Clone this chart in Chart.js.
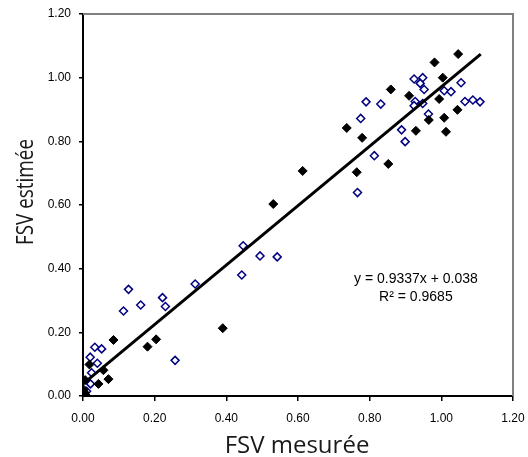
<!DOCTYPE html>
<html>
<head>
<meta charset="utf-8">
<script src="https://cdn.jsdelivr.net/npm/chart.js@4.4.0/dist/chart.umd.min.js"></script>
<style>
  body { margin: 0; background: #ffffff; }
</style>
</head>
<body>
<canvas id="grafica" width="528" height="457"></canvas>
<script>
// Valeurs mesurées / estimées, série 1 (losanges noirs pleins)
var mesureNoir = [1.047, 0.981, 1.004, 0.859, 0.910, 0.994, 1.045, 1.008, 0.965, 0.736,
                  1.013, 0.779, 0.929, 0.613, 0.764, 0.852, 0.531, 0.390, 0.085, 0.180,
                  0.204, 0.018, 0.057, 0.071, 0.043, 0.006, 0.002, 0.000, 0.005, 0.010];
var estimeNoir = [1.074, 1.048, 1.000, 0.963, 0.943, 0.933, 0.899, 0.874, 0.867, 0.842,
                  0.830, 0.811, 0.833, 0.707, 0.703, 0.729, 0.603, 0.213, 0.176, 0.155,
                  0.178, 0.099, 0.081, 0.053, 0.038, 0.050, 0.020, 0.005, 0.010, 0.000];

// Série 2 (losanges bleus vides)
var mesureBleu = [0.924, 0.948, 0.941, 0.952, 1.055, 1.008, 1.027, 1.066, 1.088, 1.108,
                  0.927, 0.924, 0.948, 0.790, 0.831, 0.775, 0.964, 0.889, 0.899, 0.813,
                  0.766, 0.447, 0.494, 0.542, 0.443, 0.313, 0.127, 0.222, 0.230, 0.161,
                  0.113, 0.257, 0.033, 0.052, 0.020, 0.040, 0.024, 0.021, 0.010, 0.005];
var estimeBleu = [0.996, 1.000, 0.982, 0.963, 0.984, 0.959, 0.956, 0.925, 0.930, 0.924,
                  0.925, 0.912, 0.919, 0.924, 0.917, 0.872, 0.886, 0.836, 0.799, 0.755,
                  0.639, 0.472, 0.440, 0.437, 0.380, 0.352, 0.335, 0.309, 0.281, 0.286,
                  0.267, 0.112, 0.153, 0.148, 0.122, 0.103, 0.073, 0.038, 0.015, 0.005];

// Droite de régression (extrémités)
var tendanceX = [0.00, 1.11];
var tendanceY = [0.038, 1.074];

var equation = ['y = 0.9337x + 0.038', 'R² = 0.9685'];
var ticksAxe = [0.00, 0.20, 0.40, 0.60, 0.80, 1.00, 1.20];
var titreX = 'FSV mesurée';
var titreY = 'FSV estimée';

function points(xs, ys) {
    var res = [];
    for (var i = 0; i < xs.length; i++) {
        res.push({ x: xs[i], y: ys[i] });
    }
    return res;
}

// Cadre gris en haut et à droite, titres des axes, texte de l'équation
var cadre = {
    id: 'cadre',
    afterDatasetsDraw: function (chart) {
        var ctx = chart.ctx;
        var a = chart.chartArea;
        ctx.save();
        ctx.strokeStyle = '#808080';
        ctx.lineWidth = 2;
        ctx.beginPath();
        ctx.moveTo(a.left, a.top);
        ctx.lineTo(a.right, a.top);
        ctx.lineTo(a.right, a.bottom);
        ctx.stroke();

        var sx = chart.scales.x, sy = chart.scales.y;
        ctx.fillStyle = '#000000';
        ctx.font = '14px "Liberation Sans", Arial, sans-serif';
        ctx.textAlign = 'center';
        ctx.textBaseline = 'middle';
        ctx.fillText(equation[0], sx.getPixelForValue(0.929), sy.getPixelForValue(0.368));
        ctx.fillText(equation[1], sx.getPixelForValue(0.929), sy.getPixelForValue(0.311));

        // titres (le titre vertical est plus serré dans l'original)
        ctx.font = '24px "Open Sans", sans-serif';
        ctx.textBaseline = 'alphabetic';
        ctx.fillStyle = '#1a1a1a';
        ctx.fillText(titreX, 297, 453);

        ctx.translate(33, 192);
        ctx.rotate(-Math.PI / 2);
        var larg = ctx.measureText(titreY).width;
        ctx.scale(106 / larg, 1);
        ctx.fillText(titreY, 0, 0);
        ctx.restore();
    }
};

var ctx = document.getElementById('grafica').getContext('2d');

var grafica = new Chart(ctx, {
    type: 'scatter',
    data: {
        datasets: [{
            label: 'Régression',
            type: 'line',
            data: points(tendanceX, tendanceY),
            borderColor: '#000000',
            borderWidth: 3,
            pointRadius: 0,
            fill: false,
            order: 0
        }, {
            label: 'Série 1',
            data: points(mesureNoir, estimeNoir),
            pointStyle: 'rectRot',
            pointRadius: 4.5,
            backgroundColor: '#000000',
            borderColor: '#000000',
            borderWidth: 1,
            order: 1
        }, {
            label: 'Série 2',
            data: points(mesureBleu, estimeBleu),
            pointStyle: 'rectRot',
            pointRadius: 4,
            backgroundColor: '#ffffff',
            borderColor: '#000080',
            borderWidth: 1.5,
            order: 2
        }]
    },
    options: {
        responsive: false,
        animation: false,
        layout: {
            padding: { left: 0, top: 14, right: 15, bottom: 0 }
        },
        plugins: {
            legend: { display: false },
            tooltip: { enabled: false }
        },
        scales: {
            x: {
                type: 'linear',
                min: 0,
                max: 1.2,
                afterFit: function (scale) {
                    scale.height = 61;
                    scale.paddingLeft = 0;
                    scale.paddingRight = 0;
                },
                afterBuildTicks: function (scale) {
                    scale.ticks = ticksAxe.map(function (v) { return { value: v }; });
                },
                grid: {
                    drawOnChartArea: false,
                    color: '#000000',
                    tickLength: 5,
                    lineWidth: 1.5
                },
                border: { color: '#000000', width: 2 },
                ticks: {
                    color: '#000000',
                    padding: 10,
                    maxRotation: 0,
                    font: { family: '"Liberation Sans", Arial, sans-serif', size: 12 },
                    callback: function (v) { return Number(v).toFixed(2); }
                },
                title: { display: false }
            },
            y: {
                type: 'linear',
                min: 0,
                max: 1.2,
                afterFit: function (scale) {
                    scale.width = 83;
                    scale.paddingTop = 0;
                    scale.paddingBottom = 0;
                },
                afterBuildTicks: function (scale) {
                    scale.ticks = ticksAxe.map(function (v) { return { value: v }; });
                },
                grid: {
                    drawOnChartArea: false,
                    color: '#000000',
                    tickLength: 4,
                    lineWidth: 1.5
                },
                border: { color: '#000000', width: 2 },
                ticks: {
                    color: '#000000',
                    padding: 8,
                    font: { family: '"Liberation Sans", Arial, sans-serif', size: 12 },
                    callback: function (v) { return Number(v).toFixed(2); }
                },
                title: { display: false }
            }
        }
    },
    plugins: [cadre]
});
</script>
</body>
</html>
